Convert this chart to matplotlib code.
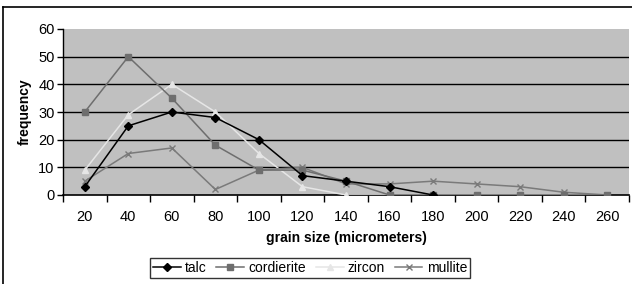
import matplotlib.pyplot as plt
import numpy as np
from matplotlib.lines import Line2D

plt.rcParams['font.family'] = ['Liberation Sans', 'DejaVu Sans']

# data
sizes = ['20', '40', '60', '80', '100', '120', '140', '160', '180', '200', '220', '240', '260']
talc = [3, 25, 30, 28, 20, 7, 5, 3, 0, np.nan, np.nan, np.nan, np.nan]
cordierite = [30, 50, 35, 18, 9, 9, 5, 0, 0, 0, 0, 0, 0]
zircon = [9, 29, 40, 30, 15, 3, 0, 0, 0, 0, 0, 0, 0]
mullite = [5, 15, 17, 2, 9, 10, 4, 4, 5, 4, 3, 1, 0]

fig = plt.figure(figsize=(6.32, 2.84), dpi=100)
ax = fig.add_axes([63/632, 1-195/284, 566/632, 166/284])
ax.set_facecolor('#c0c0c0')

x = np.arange(len(sizes))
ax.plot(x, talc, color='black', marker='D', ms=4, lw=1.1, label='talc', zorder=5)
ax.plot(x, cordierite, color='#6e6e6e', marker='s', ms=5, lw=1.1, label='cordierite', zorder=4)
ax.plot(x, zircon, color='#e6e6e6', marker='^', ms=5, lw=1.1, label='zircon', zorder=3)
ax.plot(x, mullite, color='#7a7a7a', marker='x', ms=5, mew=1, lw=1.1, label='mullite', zorder=3)

ax.set_xlim(-0.5, len(sizes)-0.5)
ax.set_ylim(0, 60)
ax.set_yticks(range(0, 61, 10))
for v in range(10, 60, 10):
    ax.axhline(v, color='black', lw=1, zorder=1)

ax.set_xticks(x)
ax.set_xticklabels(sizes)
ax.set_xticks(np.arange(-0.5, len(sizes), 1), minor=True)
ax.tick_params(axis='x', which='major', length=0, pad=11, labelsize=10.5)
ax.tick_params(axis='x', which='minor', length=5, direction='out', width=1)
ax.tick_params(axis='y', length=4, width=1, labelsize=10.5, pad=2)

for s in ['top', 'right']:
    ax.spines[s].set_visible(False)
ax.spines['left'].set_linewidth(1)
ax.spines['bottom'].set_linewidth(1.2)

ax.set_xlabel('grain size (micrometers)', fontweight='bold', fontsize=10, labelpad=5)
ax.set_ylabel('frequency', fontweight='bold', fontsize=10, labelpad=5)

leg = ax.legend(loc='upper center', bbox_to_anchor=(310/632, 1-258/284), bbox_transform=fig.transFigure,
                ncol=4, fontsize=10, frameon=True, fancybox=False, edgecolor='black',
                handlelength=2, handletextpad=0.3, columnspacing=0.7, borderpad=0.2,
                borderaxespad=0)
leg.get_frame().set_linewidth(1)
leg.get_frame().set_facecolor('white')

# outer chart frame
fig.add_artist(Line2D([3/632, 1], [1-7/284, 1-7/284], color='black', lw=1.2, transform=fig.transFigure))
fig.add_artist(Line2D([3/632, 3/632], [0, 1-7/284], color='black', lw=1.2, transform=fig.transFigure))

fig.savefig('out.png', dpi=100)
